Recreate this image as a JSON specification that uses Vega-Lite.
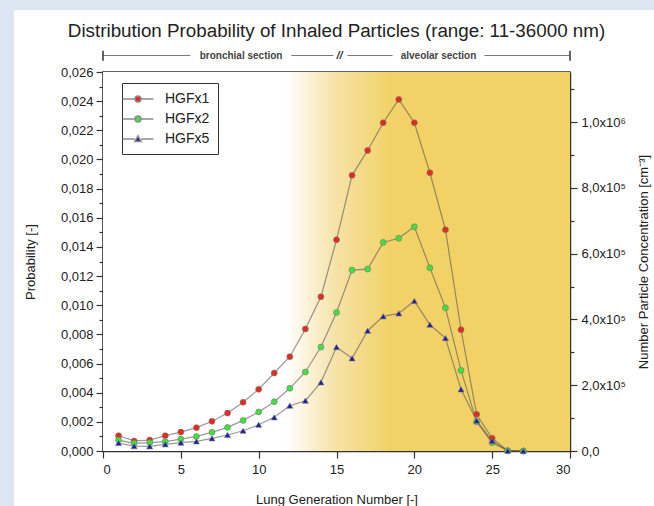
{
  "$schema": "https://vega.github.io/schema/vega-lite/v6.json",
  "width": 467,
  "height": 379,
  "autosize": {"type": "none"},
  "padding": {"left": 103, "top": 72, "right": 84, "bottom": 55},
  "background": "white",
  "title": {
    "text": "Distribution Probability of Inhaled Particles (range: 11-36000 nm)",
    "font": "Liberation Sans",
    "fontSize": 18.8,
    "fontWeight": "normal",
    "color": "#222",
    "anchor": "middle",
    "frame": "group",
    "offset": 10,
    "dy": 50.7
  },
  "config": {
    "font": "Liberation Sans",
    "view": {"stroke": "#333", "strokeWidth": 1.5}
  },
  "datasets": {
    "main": [
      {"gen": 1, "series": "HGFx1", "p": 0.00105}, {"gen": 2, "series": "HGFx1", "p": 0.00069}, {"gen": 3, "series": "HGFx1", "p": 0.00075},
      {"gen": 4, "series": "HGFx1", "p": 0.00105}, {"gen": 5, "series": "HGFx1", "p": 0.0013}, {"gen": 6, "series": "HGFx1", "p": 0.0016},
      {"gen": 7, "series": "HGFx1", "p": 0.00204}, {"gen": 8, "series": "HGFx1", "p": 0.0026}, {"gen": 9, "series": "HGFx1", "p": 0.00334},
      {"gen": 10, "series": "HGFx1", "p": 0.00423}, {"gen": 11, "series": "HGFx1", "p": 0.00535}, {"gen": 12, "series": "HGFx1", "p": 0.00647},
      {"gen": 13, "series": "HGFx1", "p": 0.00837}, {"gen": 14, "series": "HGFx1", "p": 0.01058}, {"gen": 15, "series": "HGFx1", "p": 0.01449},
      {"gen": 16, "series": "HGFx1", "p": 0.01891}, {"gen": 17, "series": "HGFx1", "p": 0.02062}, {"gen": 18, "series": "HGFx1", "p": 0.02252},
      {"gen": 19, "series": "HGFx1", "p": 0.02412}, {"gen": 20, "series": "HGFx1", "p": 0.02252}, {"gen": 21, "series": "HGFx1", "p": 0.01909},
      {"gen": 22, "series": "HGFx1", "p": 0.01518}, {"gen": 23, "series": "HGFx1", "p": 0.00832}, {"gen": 24, "series": "HGFx1", "p": 0.00252},
      {"gen": 25, "series": "HGFx1", "p": 0.00087}, {"gen": 26, "series": "HGFx1", "p": 0.00002}, {"gen": 27, "series": "HGFx1", "p": 0.0},
      {"gen": 1, "series": "HGFx2", "p": 0.00075}, {"gen": 2, "series": "HGFx2", "p": 0.00053}, {"gen": 3, "series": "HGFx2", "p": 0.00057},
      {"gen": 4, "series": "HGFx2", "p": 0.00064}, {"gen": 5, "series": "HGFx2", "p": 0.00082}, {"gen": 6, "series": "HGFx2", "p": 0.001},
      {"gen": 7, "series": "HGFx2", "p": 0.00128}, {"gen": 8, "series": "HGFx2", "p": 0.00162}, {"gen": 9, "series": "HGFx2", "p": 0.0021},
      {"gen": 10, "series": "HGFx2", "p": 0.00268}, {"gen": 11, "series": "HGFx2", "p": 0.00338}, {"gen": 12, "series": "HGFx2", "p": 0.0043},
      {"gen": 13, "series": "HGFx2", "p": 0.00542}, {"gen": 14, "series": "HGFx2", "p": 0.00713}, {"gen": 15, "series": "HGFx2", "p": 0.0095},
      {"gen": 16, "series": "HGFx2", "p": 0.01241}, {"gen": 17, "series": "HGFx2", "p": 0.01248}, {"gen": 18, "series": "HGFx2", "p": 0.01431},
      {"gen": 19, "series": "HGFx2", "p": 0.01459}, {"gen": 20, "series": "HGFx2", "p": 0.01538}, {"gen": 21, "series": "HGFx2", "p": 0.01257},
      {"gen": 22, "series": "HGFx2", "p": 0.00982}, {"gen": 23, "series": "HGFx2", "p": 0.00553}, {"gen": 24, "series": "HGFx2", "p": 0.002},
      {"gen": 25, "series": "HGFx2", "p": 0.00057}, {"gen": 26, "series": "HGFx2", "p": 0.00002}, {"gen": 27, "series": "HGFx2", "p": 0.0},
      {"gen": 1, "series": "HGFx5", "p": 0.00055}, {"gen": 2, "series": "HGFx5", "p": 0.00034}, {"gen": 3, "series": "HGFx5", "p": 0.00032},
      {"gen": 4, "series": "HGFx5", "p": 0.00046}, {"gen": 5, "series": "HGFx5", "p": 0.00057}, {"gen": 6, "series": "HGFx5", "p": 0.00066},
      {"gen": 7, "series": "HGFx5", "p": 0.00087}, {"gen": 8, "series": "HGFx5", "p": 0.0011}, {"gen": 9, "series": "HGFx5", "p": 0.00139},
      {"gen": 10, "series": "HGFx5", "p": 0.0018}, {"gen": 11, "series": "HGFx5", "p": 0.00231}, {"gen": 12, "series": "HGFx5", "p": 0.00311},
      {"gen": 13, "series": "HGFx5", "p": 0.00345}, {"gen": 14, "series": "HGFx5", "p": 0.00471}, {"gen": 15, "series": "HGFx5", "p": 0.00713},
      {"gen": 16, "series": "HGFx5", "p": 0.00636}, {"gen": 17, "series": "HGFx5", "p": 0.00825}, {"gen": 18, "series": "HGFx5", "p": 0.00924},
      {"gen": 19, "series": "HGFx5", "p": 0.00944}, {"gen": 20, "series": "HGFx5", "p": 0.01029}, {"gen": 21, "series": "HGFx5", "p": 0.00866},
      {"gen": 22, "series": "HGFx5", "p": 0.00775}, {"gen": 23, "series": "HGFx5", "p": 0.00423}, {"gen": 24, "series": "HGFx5", "p": 0.00208},
      {"gen": 25, "series": "HGFx5", "p": 0.00069}, {"gen": 26, "series": "HGFx5", "p": 0.00002}, {"gen": 27, "series": "HGFx5", "p": 0.0}
    ],
    "annRules": [
      {"start": 0, "end": 5.6},
      {"start": 12.1, "end": 14.8},
      {"start": 15.7, "end": 18.6},
      {"start": 24.5, "end": 30}
    ],
    "annEnds": [{"at": 0}, {"at": 30}],
    "annText": [
      {"at": 8.87, "label": "bronchial section"},
      {"at": 21.55, "label": "alveolar section"}
    ],
    "annBreak": [{"at": 15.2, "label": "//"}]
  },
  "resolve": {"axis": {"y": "independent"}, "scale": {"shape": "independent", "color": "independent"}},
  "layer": [
    {
      "data": {"values": [{}]},
      "mark": {"type": "rect", "fill": "#dce6f2", "clip": false},
      "encoding": {
        "x": {"datum": -6.617, "type": "quantitative"},
        "x2": {"datum": -5.72},
        "y": {"datum": -0.00377, "type": "quantitative", "axis": null},
        "y2": {"datum": 0.030939}
      }
    },
    {
      "data": {"values": [{}]},
      "mark": {"type": "rect", "fill": "#dce6f2", "clip": false},
      "encoding": {
        "x": {"datum": -6.617, "type": "quantitative"},
        "x2": {"datum": 35.396},
        "y": {"datum": 0.030254, "type": "quantitative", "axis": null},
        "y2": {"datum": 0.030939}
      }
    },
    {
      "data": {"values": [{}]},
      "mark": {
        "type": "rect",
        "fill": {
          "gradient": "linear",
          "x1": 0, "x2": 1, "y1": 0, "y2": 0,
          "stops": [
            {"offset": 0, "color": "#ffffff"},
            {"offset": 0.39, "color": "#ffffff"},
            {"offset": 0.5, "color": "#f6e2a6"},
            {"offset": 0.615, "color": "#f2d267"},
            {"offset": 1, "color": "#f2d267"}
          ]
        }
      },
      "encoding": {
        "x": {"datum": 0, "type": "quantitative"},
        "x2": {"datum": 30},
        "y": {"datum": 0, "type": "quantitative", "axis": null},
        "y2": {"datum": 0.026}
      }
    },
    {
      "data": {"name": "main"},
      "mark": {"type": "line", "stroke": "#555", "strokeOpacity": 0.6, "strokeWidth": 1.2},
      "encoding": {
        "x": {
          "field": "gen", "type": "quantitative",
          "scale": {"domain": [0, 30], "nice": false, "zero": false},
          "axis": {
            "values": [0, 2.5, 5, 7.5, 10, 12.5, 15, 17.5, 20, 22.5, 25, 27.5, 30],
            "labelExpr": "datum.value % 5 === 0 ? format(datum.value, 'd') : ''",
            "tickSize": {"condition": {"test": "datum.value % 5 === 0", "value": 7}, "value": 4},
            "labelOverlap": false,
            "grid": false,
            "domainColor": "#333", "domainWidth": 1.5,
            "tickColor": "#333", "tickWidth": 1.2,
            "labelFont": "Liberation Sans", "labelFontSize": 13, "labelColor": "#222", "labelPadding": 5,
            "title": "Lung Generation Number [-]",
            "titleFont": "Liberation Sans", "titleFontSize": 13, "titleFontWeight": "normal", "titleColor": "#222",
            "titleX": 233.5, "titleY": 48, "titleAlign": "center", "titleBaseline": "middle"
          }
        },
        "y": {
          "field": "p", "type": "quantitative",
          "scale": {"domain": [0, 0.026], "nice": false},
          "axis": {
            "orient": "left",
            "values": [0, 0.001, 0.002, 0.003, 0.004, 0.005, 0.006, 0.007, 0.008, 0.009, 0.01, 0.011, 0.012, 0.013, 0.014, 0.015, 0.016, 0.017, 0.018, 0.019, 0.02, 0.021, 0.022, 0.023, 0.024, 0.025, 0.026],
            "labelExpr": "round(datum.value * 1000) % 2 === 0 ? replace(format(datum.value, '.3f'), '.', ',') : ''",
            "tickSize": {"condition": {"test": "round(datum.value * 1000) % 2 === 0", "value": 7}, "value": 4},
            "labelOverlap": false,
            "grid": false,
            "domainColor": "#333", "domainWidth": 1.5,
            "tickColor": "#333", "tickWidth": 1.2,
            "labelFont": "Liberation Sans", "labelFontSize": 13, "labelColor": "#222", "labelPadding": 3,
            "title": "Probability [-]",
            "titleFont": "Liberation Sans", "titleFontSize": 13, "titleFontWeight": "normal", "titleColor": "#222",
            "titleX": -72.5, "titleY": 189.5, "titleAngle": 270, "titleAlign": "center", "titleBaseline": "middle"
          }
        },
        "detail": {"field": "series"}
      }
    },
    {
      "data": {"name": "main"},
      "mark": {"type": "point", "filled": true, "opacity": 1, "size": 36, "stroke": "#777", "strokeWidth": 0.6},
      "encoding": {
        "x": {"field": "gen", "type": "quantitative"},
        "y": {"field": "p", "type": "quantitative", "axis": null},
        "color": {
          "field": "series", "type": "nominal",
          "scale": {"domain": ["HGFx1", "HGFx2", "HGFx5"], "range": ["#e52a1e", "#3fe23a", "#1a1ea6"]},
          "legend": null
        },
        "shape": {
          "field": "series", "type": "nominal",
          "scale": {"domain": ["HGFx1", "HGFx2", "HGFx5"], "range": ["circle", "circle", "triangle-up"]},
          "legend": null
        }
      }
    },
    {
      "data": {"name": "main"},
      "mark": {"type": "point", "filled": true, "opacity": 0, "size": 30, "stroke": "#8a8a8a", "strokeWidth": 1},
      "encoding": {
        "x": {"field": "gen", "type": "quantitative"},
        "y": {"field": "p", "type": "quantitative", "axis": null},
        "color": {
          "field": "series", "type": "nominal",
          "scale": {"domain": ["HGFx1", "HGFx2", "HGFx5"], "range": ["#e52a1e", "#3fe23a", "#1a1ea6"]},
          "legend": {
            "orient": "none", "legendX": 19, "legendY": 11,
            "title": null,
            "strokeColor": "#333", "fillColor": "white", "padding": 8,
            "symbolSize": 196, "labelOffset": 19, "rowPadding": 5,
            "labelFont": "Liberation Sans", "labelFontSize": 14, "labelColor": "#222",
            "symbolOpacity": 1
          }
        },
        "shape": {
          "field": "series", "type": "nominal",
          "scale": {
            "domain": ["HGFx1", "HGFx2", "HGFx5"],
            "range": [
              "M-2.2,0H-0.45M0.45,0H2.2M-0.42,0A0.42,0.42,0,1,0,0.42,0A0.42,0.42,0,1,0,-0.42,0Z",
              "M-2.2,0H-0.45M0.45,0H2.2M-0.42,0A0.42,0.42,0,1,0,0.42,0A0.42,0.42,0,1,0,-0.42,0Z",
              "M-2.2,0H-0.45M0.45,0H2.2M0,-0.45L0.45,0.35L-0.45,0.35Z"
            ]
          },
          "legend": {
            "orient": "none", "legendX": 19, "legendY": 11,
            "title": null,
            "strokeColor": "#333", "fillColor": "white", "padding": 8,
            "symbolSize": 196, "labelOffset": 19, "rowPadding": 5,
            "labelFont": "Liberation Sans", "labelFontSize": 14, "labelColor": "#222",
            "symbolOpacity": 1
          }
        }
      }
    },
    {
      "data": {"name": "annRules"},
      "mark": {"type": "rule", "stroke": "#777", "strokeWidth": 1, "clip": false},
      "encoding": {
        "x": {"field": "start", "type": "quantitative"},
        "x2": {"field": "end"},
        "y": {"datum": 0.02713, "type": "quantitative", "axis": null}
      }
    },
    {
      "data": {"name": "annEnds"},
      "mark": {"type": "rule", "stroke": "#333", "strokeWidth": 1.5, "clip": false},
      "encoding": {
        "x": {"field": "at", "type": "quantitative"},
        "y": {"datum": 0.02678, "type": "quantitative", "axis": null},
        "y2": {"datum": 0.02746}
      }
    },
    {
      "data": {"name": "annText"},
      "mark": {"type": "text", "font": "Liberation Sans", "fontSize": 10, "fontWeight": "bold", "color": "#444", "baseline": "middle", "align": "center", "clip": false},
      "encoding": {
        "x": {"field": "at", "type": "quantitative"},
        "y": {"datum": 0.02713, "type": "quantitative", "axis": null},
        "text": {"field": "label"}
      }
    },
    {
      "data": {"name": "annBreak"},
      "mark": {"type": "text", "font": "Liberation Sans", "fontSize": 11, "fontWeight": "bold", "fontStyle": "italic", "color": "#333", "baseline": "middle", "align": "center", "clip": false},
      "encoding": {
        "x": {"field": "at", "type": "quantitative"},
        "y": {"datum": 0.02713, "type": "quantitative", "axis": null},
        "text": {"field": "label"}
      }
    },
    {
      "data": {"values": [{}]},
      "mark": {"type": "point", "opacity": 0},
      "encoding": {
        "x": {"datum": 0, "type": "quantitative"},
        "y": {
          "datum": 0, "type": "quantitative",
          "axis": {
            "orient": "right",
            "values": [0, 0.00225649, 0.00451298, 0.00676947, 0.00902596, 0.01128245, 0.01353894, 0.01579543, 0.01805192, 0.02030841, 0.0225649, 0.02482139],
            "labelExpr": "round(datum.value / 0.00225649) % 2 !== 0 ? '' : (round(datum.value / 0.00225649) === 0 ? '0,0' : (round(datum.value / 0.00225649) >= 10 ? replace(format(round(datum.value / 0.00225649) / 10, '.1f'), '.', ',') + 'x10⁶' : format(round(datum.value / 0.00225649), 'd') + ',0x10⁵'))",
            "tickSize": {"condition": {"test": "round(datum.value / 0.00225649) % 2 === 0", "value": 7}, "value": 4},
            "labelOverlap": false,
            "grid": false,
            "domainColor": "#333", "domainWidth": 1.5,
            "tickColor": "#333", "tickWidth": 1.2,
            "labelFont": "Liberation Sans", "labelFontSize": 13, "labelColor": "#222", "labelPadding": 4,
            "title": "Number Particle Concentration [cm⁻³]",
            "titleFont": "Liberation Sans", "titleFontSize": 13, "titleFontWeight": "normal", "titleColor": "#222",
            "titleX": 73, "titleY": 189.5, "titleAngle": 270, "titleAlign": "center", "titleBaseline": "middle"
          }
        }
      }
    }
  ]
}
